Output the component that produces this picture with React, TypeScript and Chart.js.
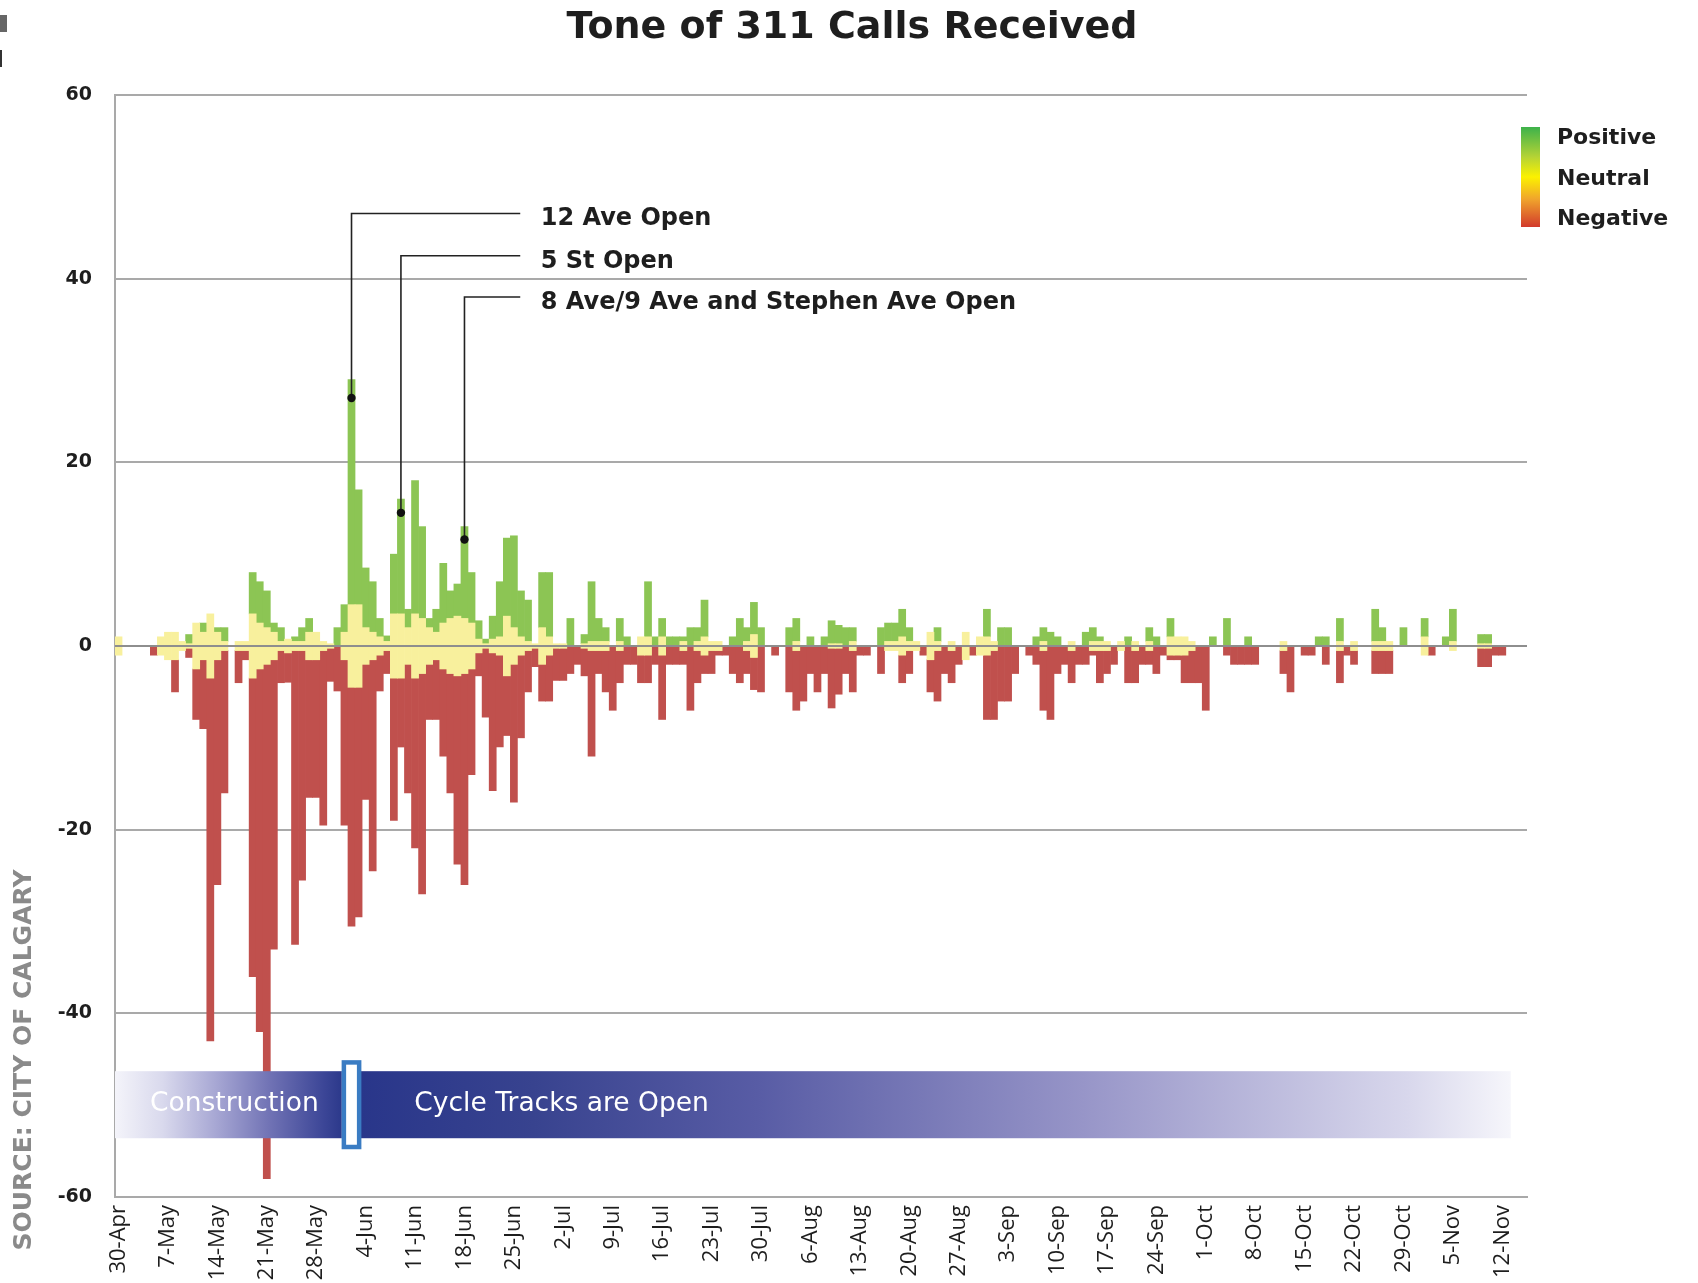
import React, { useEffect, useRef } from 'react';
import { Chart, registerables } from 'chart.js';

Chart.register(...registerables);

// ---------- data ----------
const MONTHS = ['Apr', 'May', 'Jun', 'Jul', 'Aug', 'Sep', 'Oct', 'Nov'];
const MONTH_LENGTHS = [30, 31, 30, 31, 31, 30, 31, 30];
const DAY_COUNT = 200; // 30-Apr .. 15-Nov
const TICK_EVERY = 7;

// daily counts, one row per week starting 30-Apr
const POSITIVE = [
  0, 0, 0, 0, 0, 0, 0,
  0, 0, 0, 1, 0, 1, 0,
  0.5, 1.5, 0, 0, 0, 4.5, 4.5,
  4, 1, 1.5, 0, 0.5, 1.5, 1.5,
  0, 0, 0, 2, 3, 24.5, 12.5,
  6.5, 5.5, 2, 0.6, 6.5, 12.5, 2,
  14.5, 10, 1, 2.5, 6.5, 3, 3.5,
  10, 5.5, 2, 0.5, 2.5, 6, 8.5,
  10, 5, 4.5, 0, 6, 7, 0,
  0, 3, 0, 1, 6.5, 2.5, 1.5,
  0, 2.5, 1, 0, 0, 6, 1,
  2, 1, 1, 0.5, 2, 1.5, 4,
  0, 0, 0, 1, 3, 1.5, 3.5,
  2, 0, 0, 0, 2, 2.5, 0,
  1, 0, 1, 2.5, 2, 2, 1.5,
  0, 0, 0, 2, 2, 2, 3,
  1.5, 0, 0, 0, 1.5, 0, 0,
  0, 0, 0, 0, 3, 0, 2,
  2, 0, 0, 0, 1, 1.5, 1.5,
  1, 0, 0, 0, 1.5, 1.5, 0.5,
  0, 0, 0, 1, 0, 0, 1.5,
  1, 0, 2, 0, 0, 0, 0,
  0, 1, 0, 3, 0, 0, 1,
  0, 0, 0, 0, 0, 0, 0,
  0, 0, 1, 1, 0, 2.5, 0,
  0, 0, 0, 3.5, 1.5, 0, 0,
  2, 0, 0, 2, 0, 0, 1,
  3.5, 0, 0, 0, 1, 1, 0,
  0, 0, 0, 0,
];

const NEUTRAL = [
  2, 0, 0, 0, 0, 0, 2,
  3, 3, 1, 0.5, 5, 3, 7,
  3, 1, 0, 1, 1, 7, 5,
  4, 3, 1, 1.5, 1, 1, 3,
  3, 1, 0.5, 0, 3, 9, 9,
  4, 3, 2, 1, 7, 7, 4,
  7, 6, 4, 3, 5, 6, 6.5,
  6, 5, 1.5, 0.5, 1.5, 2, 6.5,
  4, 2, 1, 0.5, 4, 2, 0.5,
  0.5, 0, 0, 0.5, 1, 1, 1,
  0, 1, 0, 0, 2, 2, 0,
  2, 0, 0, 1, 0, 1, 2,
  1, 1, 0, 0, 0, 1, 2.5,
  0, 0, 0, 0, 0, 1, 0,
  0, 0, 0, 0.5, 0.5, 0, 1,
  0, 0, 0, 0, 1, 1, 2,
  1, 1, 0, 3, 1, 0, 1,
  0, 3, 0, 2, 2, 1, 0,
  0, 0, 0, 0, 0, 1, 0,
  0, 0, 1, 0, 0, 1, 1,
  1, 0, 1, 0, 1, 0, 1,
  0, 0, 2, 2, 2, 1, 0,
  0, 0, 0, 0, 0, 0, 0,
  0, 0, 0, 0, 1, 0, 0,
  0, 0, 0, 0, 0, 1, 0,
  1, 0, 0, 1, 1, 1, 0,
  0, 0, 0, 2, 0, 0, 0,
  1, 0, 0, 0, 0.5, 0.5, 0,
  0, 0, 0, 0,
];

const NEGATIVE = [
  0, 0, 0, 0, 0, 1, 0,
  0, 3.5, 0, 1, 5.5, 7.5, 39.5,
  24.5, 15.5, 0, 3.5, 1, 32.5, 39.5,
  56, 31.5, 3.5, 3.2, 32, 25, 15,
  15, 19, 3.6, 4.9, 18, 26, 25,
  14.7, 23, 3.9, 2.5, 15.5, 7.5, 14,
  18.5, 24, 6, 6.5, 9.5, 13, 20.5,
  23, 11.5, 2.5, 7.5, 15, 10, 6.5,
  15, 9, 4.5, 2, 4, 5, 3.5,
  3.5, 3, 2, 3, 11.5, 2.5, 4.5,
  7, 3.5, 2, 2, 3, 3, 2,
  7, 2, 2, 1.5, 7, 3.5, 2,
  2.5, 0.5, 1, 3, 4, 2.5, 3.5,
  5, 0, 1, 0, 5, 6.5, 6,
  3, 5, 3, 6.5, 5, 3, 4.5,
  1, 1, 0, 3, 0, 0, 3,
  2.5, 0, 1, 3.5, 5.5, 3, 3.5,
  2, 0, 1, 0, 7, 7.5, 6,
  6, 3, 0, 1, 2, 6.5, 8,
  3, 2, 3.5, 2, 2, 0.5, 3.5,
  2.5, 2, 0, 4, 3.5, 2, 1.5,
  3, 1, 0.5, 0.5, 3, 3.5, 4,
  7, 0, 0, 1, 2, 2, 2,
  2, 0, 0, 0, 2.5, 5, 0,
  1, 1, 0, 2, 0, 3.5, 1,
  1.5, 0, 0, 2.5, 2.5, 2.5, 0,
  0, 0, 0, 0, 1, 0, 0,
  0, 0, 0, 0, 2, 2, 1,
  1, 0, 0, 0,
];

const Y_TICKS = { min: -60, max: 60, step: 20 };

// annotations: label, day index, dot value, leader level
const ANNOTATION_LABELS = ['12 Ave Open', '5 St Open', '8 Ave/9 Ave and Stephen Ave Open'];
const ANNOTATION_DAYS = [33, 40, 49];
const ANNOTATION_DOTS = [27, 14.5, 11.6];
const ANNOTATION_LEVELS = [47.1, 42.5, 38.0];

const PHASE_LABELS = ['Construction', 'Cycle Tracks are Open'];
const LEGEND_LABELS = ['Positive', 'Neutral', 'Negative'];
const TITLE = 'Tone of 311 Calls Received';
const SOURCE = 'SOURCE: CITY OF CALGARY';

// ---------- derived ----------
function buildDayLabels(n: number): string[] {
  const out: string[] = [];
  let m = 0;
  let d = 30;
  for (let i = 0; i < n; i++) {
    out.push(`${d}-${MONTHS[m]}`);
    d++;
    if (d > MONTH_LENGTHS[m]) {
      d = 1;
      m++;
    }
  }
  return out;
}
const DAY_LABELS = buildDayLabels(DAY_COUNT);
const nz = (v: number) => (v === 0 ? null : v);

const COLORS = {
  pos: '#8cc554',
  neu: '#f8f09d',
  neg: '#c0504d',
  grid: '#a9a9a9',
  zero: '#8e8e8e',
  text: '#1e1e1e',
};

const overlayPlugin = {
  id: 'overlay',
  beforeDraw(chart: any) {
    const { ctx, width, height } = chart;
    ctx.save();
    ctx.fillStyle = '#ffffff';
    ctx.fillRect(0, 0, width, height);
    ctx.restore();
  },
  afterDatasetsDraw(chart: any) {
    const { ctx, chartArea, scales } = chart;
    const x = scales.x;
    const y = scales.y;
    ctx.save();

    // zero line over bars
    const y0 = y.getPixelForValue(0);
    ctx.strokeStyle = COLORS.zero;
    ctx.lineWidth = 2;
    ctx.beginPath();
    ctx.moveTo(chartArea.left, y0);
    ctx.lineTo(chartArea.right, y0);
    ctx.stroke();

    // leader lines + labels
    const lineEnd = x.getPixelForValue(56.9);
    const textX = x.getPixelForValue(59.8);
    ANNOTATION_LABELS.forEach((label, i) => {
      const px = x.getPixelForValue(ANNOTATION_DAYS[i]);
      const py = y.getPixelForValue(ANNOTATION_DOTS[i]);
      const ly = y.getPixelForValue(ANNOTATION_LEVELS[i]);
      ctx.strokeStyle = '#222';
      ctx.lineWidth = 1.6;
      ctx.beginPath();
      ctx.moveTo(px, py);
      ctx.lineTo(px, ly);
      ctx.lineTo(lineEnd, ly);
      ctx.stroke();
      ctx.fillStyle = '#111';
      ctx.beginPath();
      ctx.arc(px, py, 4.2, 0, Math.PI * 2);
      ctx.fill();
      ctx.fillStyle = COLORS.text;
      ctx.font = 'bold 24px "DejaVu Sans"';
      ctx.textAlign = 'left';
      ctx.textBaseline = 'alphabetic';
      ctx.fillText(label, textX, ly + 12);
    });

    // phase banner
    const bTop = y.getPixelForValue(-46.3);
    const bBot = y.getPixelForValue(-53.6);
    const bLeft = chartArea.left;
    const bRight = x.getPixelForValue(197.2);
    const mL = x.getPixelForValue(31.6);
    const mR = x.getPixelForValue(34.4);
    const g1 = ctx.createLinearGradient(bLeft, 0, mL, 0);
    g1.addColorStop(0, '#f4f4fa');
    g1.addColorStop(0.21, '#d9d9ed');
    g1.addColorStop(0.45, '#a6a6d3');
    g1.addColorStop(0.68, '#7173b5');
    g1.addColorStop(0.92, '#3c4697');
    g1.addColorStop(1, '#2c398b');
    ctx.fillStyle = g1;
    ctx.fillRect(bLeft, bTop, mL - bLeft, bBot - bTop);
    const g2 = ctx.createLinearGradient(mR, 0, bRight, 0);
    g2.addColorStop(0, '#29368a');
    g2.addColorStop(0.15, '#38438f');
    g2.addColorStop(0.345, '#585ca5');
    g2.addColorStop(0.628, '#9795c8');
    g2.addColorStop(0.91, '#d8d7ec');
    g2.addColorStop(1, '#f6f6fb');
    ctx.fillStyle = g2;
    ctx.fillRect(mL, bTop, bRight - mL, bBot - bTop);

    // marker
    const mTop = y.getPixelForValue(-45.1);
    const mBot = y.getPixelForValue(-54.8);
    ctx.fillStyle = '#3a7cc3';
    ctx.fillRect(mL, mTop, mR - mL, mBot - mTop);
    ctx.fillStyle = '#ffffff';
    ctx.fillRect(mL + 4.5, mTop + 4.5, mR - mL - 9, mBot - mTop - 9);

    // banner texts
    const ty = y.getPixelForValue(-49.9);
    ctx.fillStyle = '#ffffff';
    ctx.font = '26.5px "DejaVu Sans"';
    ctx.textBaseline = 'middle';
    ctx.textAlign = 'center';
    ctx.fillText(PHASE_LABELS[0], x.getPixelForValue(16.4), ty);
    ctx.textAlign = 'left';
    ctx.fillText(PHASE_LABELS[1], x.getPixelForValue(41.9), ty);

    ctx.restore();
  },
  afterDraw(chart: any) {
    const { ctx } = chart;
    ctx.save();
    // title
    ctx.fillStyle = COLORS.text;
    ctx.font = 'bold 38px "DejaVu Sans"';
    ctx.textAlign = 'center';
    ctx.textBaseline = 'alphabetic';
    ctx.fillText(TITLE, 852, 38);

    // legend
    const lx = 1521;
    const lt = 127;
    const lb = 227;
    const lg = ctx.createLinearGradient(0, lt, 0, lb);
    lg.addColorStop(0, '#3db24b');
    lg.addColorStop(0.3, '#b5d335');
    lg.addColorStop(0.5, '#fbf100');
    lg.addColorStop(0.72, '#f0a52c');
    lg.addColorStop(1, '#d23a2c');
    ctx.fillStyle = lg;
    ctx.fillRect(lx, lt, 19, lb - lt);
    ctx.fillStyle = COLORS.text;
    ctx.font = 'bold 22px "DejaVu Sans"';
    ctx.textAlign = 'left';
    ctx.textBaseline = 'middle';
    [138, 179, 219].forEach((ly, i) => ctx.fillText(LEGEND_LABELS[i], 1557, ly));

    // source
    ctx.translate(24, 1060);
    ctx.rotate(-Math.PI / 2);
    ctx.fillStyle = '#8a8a8a';
    ctx.font = 'bold 25px "DejaVu Sans"';
    ctx.textAlign = 'center';
    ctx.textBaseline = 'middle';
    ctx.fillText(SOURCE, 0, 0);
    ctx.setTransform(1, 0, 0, 1, 0, 0);

    // crop artefacts at top-left
    ctx.fillStyle = '#666';
    ctx.fillRect(0, 15, 7, 17);
    ctx.fillStyle = '#333';
    ctx.fillRect(0, 50, 2, 17);
    ctx.restore();
  },
};

export default function App() {
  const canvasRef = useRef<HTMLCanvasElement | null>(null);

  useEffect(() => {
    const canvas = canvasRef.current;
    if (!canvas) return;
    const chart = new Chart(canvas, {
      type: 'bar',
      data: {
        labels: DAY_LABELS,
        datasets: [
          { label: 'Neutral+', data: NEUTRAL.map((v) => nz(v / 2)), backgroundColor: COLORS.neu },
          { label: 'Positive', data: POSITIVE.map(nz), backgroundColor: COLORS.pos },
          { label: 'Neutral-', data: NEUTRAL.map((v) => nz(-v / 2)), backgroundColor: COLORS.neu },
          { label: 'Negative', data: NEGATIVE.map((v) => nz(-v)), backgroundColor: COLORS.neg },
        ].map((d) => ({ ...d, stack: 'tone', barPercentage: 1, categoryPercentage: 1, borderWidth: 0 })),
      },
      options: {
        responsive: false,
        devicePixelRatio: 1,
        animation: false,
        layout: { padding: { left: 0, right: 171, top: 95, bottom: 0 } },
        plugins: {
          legend: { display: false },
          title: { display: false },
          tooltip: { enabled: false },
        },
        scales: {
          x: {
            stacked: true,
            offset: true,
            grid: { display: false, drawTicks: false },
            border: { display: true, color: COLORS.grid, width: 2 },
            ticks: {
              autoSkip: false,
              minRotation: 90,
              maxRotation: 90,
              padding: 8,
              color: COLORS.text,
              font: { family: 'Open Sans', size: 22 },
              callback: (_v: any, i: number) => (i % TICK_EVERY === 0 ? DAY_LABELS[i] : ''),
            },
            afterFit: (s: any) => {
              s.height = 86;
            },
          },
          y: {
            stacked: true,
            min: Y_TICKS.min,
            max: Y_TICKS.max,
            ticks: {
              stepSize: Y_TICKS.step,
              padding: 23,
              color: COLORS.text,
              font: { family: 'DejaVu Sans', size: 19, weight: 'bold' },
            },
            grid: {
              drawTicks: false,
              lineWidth: 2,
              color: (c: any) => (c.tick && c.tick.value === 0 ? COLORS.zero : COLORS.grid),
            },
            border: { display: true, color: COLORS.grid, width: 2 },
            afterFit: (s: any) => {
              s.width = 115;
            },
          },
        },
      } as any,
      plugins: [overlayPlugin],
    });
    return () => chart.destroy();
  }, []);

  return (
    <div style={{ position: 'absolute', left: 0, top: 0, width: 1698, height: 1283, background: '#fff' }}>
      <canvas ref={canvasRef} width={1698} height={1283} style={{ display: 'block', width: 1698, height: 1283 }} />
    </div>
  );
}
